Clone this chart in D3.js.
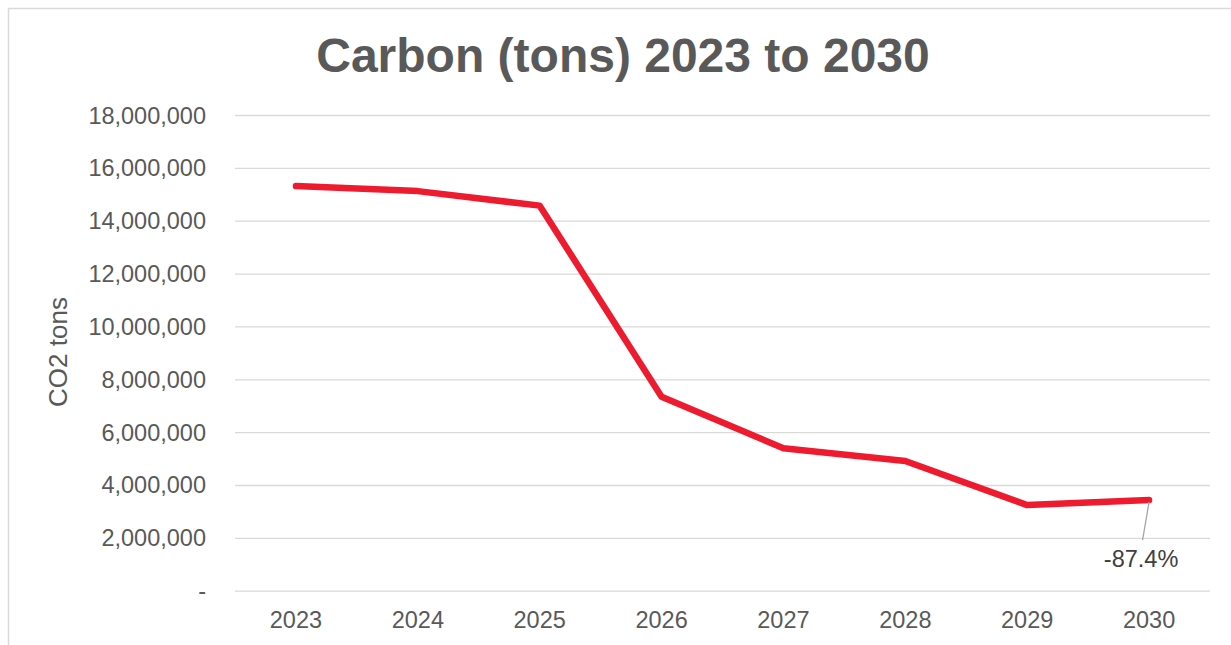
<!DOCTYPE html>
<html>
<head>
<meta charset="utf-8">
<script src="https://cdn.jsdelivr.net/npm/d3@7"></script>
<style>
  html, body { margin: 0; padding: 0; background: #fff; }
  svg { display: block; font-family: "Liberation Sans", Arial, sans-serif; }
</style>
</head>
<body>
<script>
// Annual carbon emissions, CO2 tons
const years = ["2023", "2024", "2025", "2026", "2027", "2028", "2029", "2030"];
const carbonTons = [15310000, 15120000, 14570000, 7340000, 5390000, 4910000, 3240000, 3430000];
const yTicks = [0, 2000000, 4000000, 6000000, 8000000, 10000000, 12000000, 14000000, 16000000, 18000000];
const changeLabel = "-87.4%";

const W = 1231, H = 645;
const plot = { left: 235, right: 1210, top: 115, bottom: 590.7 };

const svg = d3.select("body").append("svg")
  .attr("width", W).attr("height", H);

// chart frame
svg.append("rect")
  .attr("x", 8.5).attr("y", 8.5)
  .attr("width", W + 20).attr("height", H + 20)
  .attr("fill", "none").attr("stroke", "#d9d9d9").attr("stroke-width", 1.5);

const x = d3.scaleBand().domain(years).range([plot.left, plot.right]);
const y = d3.scaleLinear().domain([0, 18000000]).range([plot.bottom, plot.top]);

// horizontal gridlines + value labels
const yAxis = d3.axisLeft(y)
  .tickValues(yTicks)
  .tickSize(-(plot.right - plot.left))
  .tickPadding(29)
  .tickFormat(d => d === 0 ? "-" : d3.format(",")(d));

const gy = svg.append("g")
  .attr("transform", `translate(${plot.left},0)`)
  .call(yAxis);
gy.select(".domain").remove();
gy.selectAll(".tick line").attr("stroke", "#d9d9d9").attr("stroke-width", 1.3);
gy.selectAll(".tick text")
  .attr("fill", "#595959")
  .style("font-size", "23.5px")
  .attr("dy", "0.34em");

// category labels
const xAxis = d3.axisBottom(x).tickSize(0).tickPadding(0);
const gx = svg.append("g")
  .attr("transform", `translate(0,${plot.bottom})`)
  .call(xAxis);
gx.select(".domain").remove();
gx.selectAll(".tick text")
  .attr("fill", "#595959")
  .style("font-size", "23.5px")
  .attr("dy", null)
  .attr("y", 37);

// emissions line
const line = d3.line()
  .x((d, i) => x(years[i]) + x.bandwidth() / 2)
  .y(d => y(d));

svg.append("path")
  .datum(carbonTons)
  .attr("d", line)
  .attr("fill", "none")
  .attr("stroke", "#EE1B2F")
  .attr("stroke-width", 6.5)
  .attr("stroke-linecap", "round")
  .attr("stroke-linejoin", "round");

// change callout on the last point
const lastX = x(years[years.length - 1]) + x.bandwidth() / 2;
const lastY = y(carbonTons[carbonTons.length - 1]);
svg.append("line")
  .attr("x1", lastX).attr("y1", lastY + 2)
  .attr("x2", lastX - 6.5).attr("y2", lastY + 40)
  .attr("stroke", "#a6a6a6").attr("stroke-width", 1.3);
svg.append("text")
  .attr("x", lastX - 8).attr("y", lastY + 67)
  .attr("text-anchor", "middle")
  .attr("fill", "#404040")
  .style("font-size", "23.5px")
  .text(changeLabel);

// axis title
svg.append("text")
  .attr("transform", "translate(67,352) rotate(-90)")
  .attr("text-anchor", "middle")
  .attr("fill", "#595959")
  .style("font-size", "26px")
  .text("CO2 tons");

// chart title
svg.append("text")
  .attr("x", 623).attr("y", 72)
  .attr("text-anchor", "middle")
  .attr("fill", "#595959")
  .style("font-size", "48px")
  .style("font-weight", "bold")
  .text("Carbon (tons) 2023 to 2030");
</script>
</body>
</html>
